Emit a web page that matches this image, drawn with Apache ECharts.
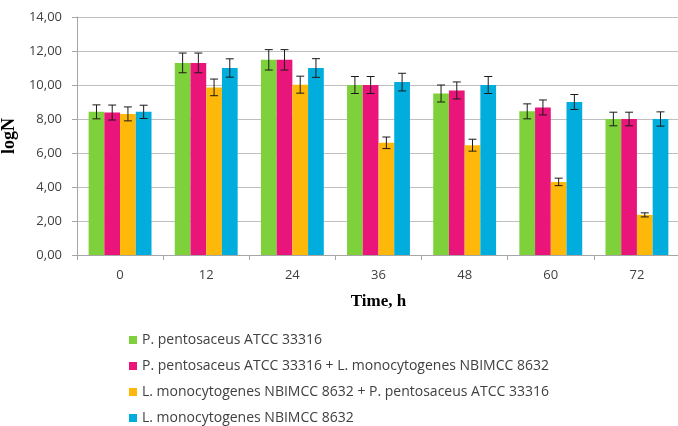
<!DOCTYPE html>
<html>
<head>
<meta charset="utf-8">
<script src="https://cdn.jsdelivr.net/npm/echarts@6/dist/echarts.min.js"></script>
<style>
  html, body { margin: 0; padding: 0; background: #fff; }
  #chart { width: 678px; height: 426px; }
</style>
</head>
<body>
<div id="chart"></div>
<script>
// Sampling times (h)
const categories = ['0', '12', '24', '36', '48', '60', '72'];

const seriesNames = [
  'P. pentosaceus ATCC 33316',
  'P. pentosaceus ATCC 33316 + L. monocytogenes NBIMCC 8632',
  'L. monocytogenes NBIMCC 8632 + P. pentosaceus ATCC 33316',
  'L. monocytogenes NBIMCC 8632'
];

// Mean logN per time point
const pentosaceus = [8.42, 11.30, 11.48, 10.00, 9.50, 8.45, 8.00];
const pentosaceusMixed = [8.38, 11.30, 11.48, 10.00, 9.68, 8.68, 8.00];
const monocytogenesMixed = [8.30, 9.86, 10.02, 6.60, 6.46, 4.30, 2.36];
const monocytogenes = [8.42, 11.00, 11.00, 10.17, 10.00, 9.00, 8.00];

// Standard deviations
const pentosaceusErr = [0.41, 0.58, 0.60, 0.50, 0.50, 0.44, 0.40];
const pentosaceusMixedErr = [0.44, 0.58, 0.60, 0.50, 0.50, 0.44, 0.40];
const monocytogenesMixedErr = [0.41, 0.49, 0.50, 0.34, 0.35, 0.22, 0.12];
const monocytogenesErr = [0.39, 0.54, 0.55, 0.52, 0.50, 0.44, 0.42];

const yTicks = { min: 0, max: 14, interval: 2 };

const colors = ['#7FD13B', '#EA157A', '#FEB80A', '#00ADDC'];
const means = [pentosaceus, pentosaceusMixed, monocytogenesMixed, monocytogenes];
const errs = [pentosaceusErr, pentosaceusMixedErr, monocytogenesMixedErr, monocytogenesErr];

const CATEGORY_GAP = 0.27;
const labelFont = '"Open Sans", sans-serif';

const chart = echarts.init(document.getElementById('chart'), null, { renderer: 'canvas' });

const barSeries = seriesNames.map((name, i) => ({
  name: name,
  type: 'bar',
  data: means[i],
  itemStyle: { color: colors[i] },
  barGap: '0%',
  barCategoryGap: (CATEGORY_GAP * 100) + '%',
  emphasis: { disabled: true }
}));

// Whiskers drawn over each bar (mean ± SD)
const errorSeries = seriesNames.map((name, i) => ({
  name: name + ' SD',
  type: 'custom',
  z: 10,
  silent: true,
  encode: { x: 0, y: [1, 2, 3] },
  data: means[i].map((v, k) => [k, v, v - errs[i][k], v + errs[i][k]]),
  renderItem: function (params, api) {
    const cat = api.value(0);
    const lo = api.coord([cat, api.value(2)]);
    const hi = api.coord([cat, api.value(3)]);
    const band = api.size([1, 0])[0];
    const barW = band * (1 - CATEGORY_GAP) / 4;
    const x = lo[0] + (i - 1.5) * barW;
    const cap = 4;
    const style = { stroke: '#1a1a1a', lineWidth: 1 };
    return {
      type: 'group',
      children: [
        { type: 'line', shape: { x1: x, y1: lo[1], x2: x, y2: hi[1] }, style: style },
        { type: 'line', shape: { x1: x - cap, y1: lo[1], x2: x + cap, y2: lo[1] }, style: style },
        { type: 'line', shape: { x1: x - cap, y1: hi[1], x2: x + cap, y2: hi[1] }, style: style }
      ]
    };
  }
}));

chart.setOption({
  animation: false,
  color: colors,
  grid: {
    left: 77, top: 17, width: 603, height: 238,
    containLabel: false,
    outerBoundsMode: 'none'
  },
  legend: {
    orient: 'vertical',
    left: 129,
    top: 332,
    height: 200,
    padding: 0,
    itemWidth: 8,
    itemHeight: 8,
    itemGap: 10,
    icon: 'rect',
    data: seriesNames,
    textStyle: { fontFamily: labelFont, fontSize: 14, color: '#404040', lineHeight: 16 }
  },
  xAxis: {
    type: 'category',
    data: categories,
    name: 'Time, h',
    nameLocation: 'middle',
    nameGap: 38,
    nameTextStyle: { fontFamily: '"Liberation Serif", serif', fontWeight: 'bold', fontSize: 17, color: '#000' },
    axisLine: { lineStyle: { color: '#a6a6a6' } },
    axisTick: { show: true, length: 5, lineStyle: { color: '#a6a6a6' } },
    axisLabel: { fontFamily: labelFont, fontSize: 13, color: '#404040', margin: 14 }
  },
  yAxis: {
    type: 'value',
    min: yTicks.min,
    max: yTicks.max,
    interval: yTicks.interval,
    name: 'logN',
    nameLocation: 'middle',
    nameGap: 50,
    nameRotate: 90,
    nameTextStyle: { fontFamily: '"Liberation Serif", serif', fontWeight: 'bold', fontSize: 18, color: '#000' },
    axisLine: { show: true, lineStyle: { color: '#a6a6a6' } },
    axisTick: { show: true, length: 5, lineStyle: { color: '#a6a6a6' } },
    splitLine: { lineStyle: { color: '#bfbfbf' } },
    axisLabel: {
      fontFamily: labelFont, fontSize: 13, color: '#404040', margin: 15,
      formatter: v => v.toFixed(2).replace('.', ',')
    }
  },
  series: barSeries.concat(errorSeries)
});
</script>
</body>
</html>
